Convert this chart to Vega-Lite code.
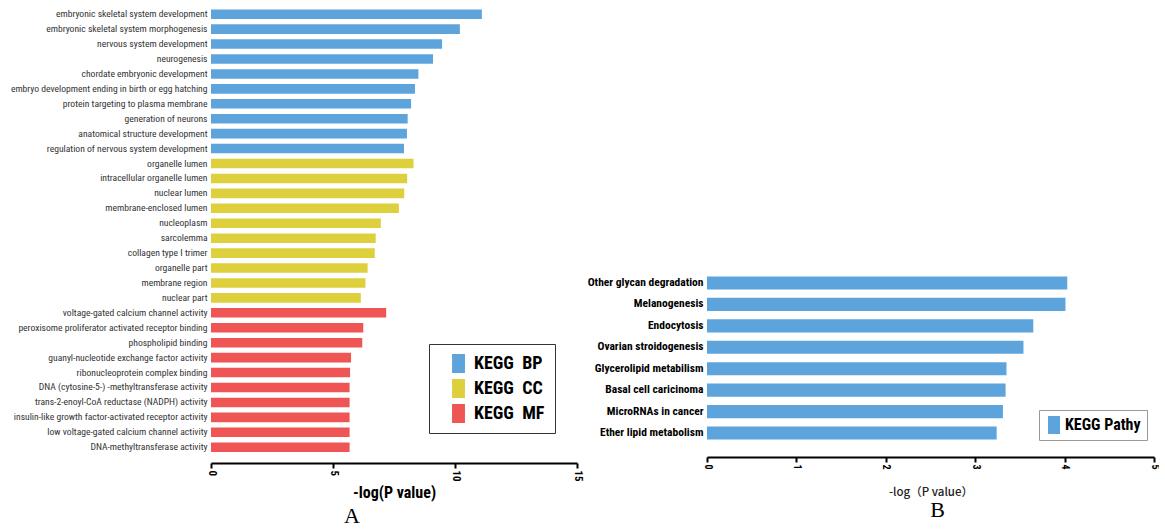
{
  "$schema": "https://vega.github.io/schema/vega-lite/v6.json",
  "padding": {"left": 10, "top": 0, "right": 0, "bottom": 0},
  "background": "white",
  "spacing": 130,
  "bounds": "flush",
  "resolve": {"scale": {"color": "independent"}, "legend": {"color": "independent"}},
  "config": {"view": {"stroke": null}},
  "hconcat": [
    {
      "width": 366,
      "height": 452,
      "data": {"values": [
        {"term": "embryonic skeletal system development", "value": 11.1, "category": "BP"},
        {"term": "embryonic skeletal system morphogenesis", "value": 10.2, "category": "BP"},
        {"term": "nervous system development", "value": 9.47, "category": "BP"},
        {"term": "neurogenesis", "value": 9.1, "category": "BP"},
        {"term": "chordate embryonic development", "value": 8.5, "category": "BP"},
        {"term": "embryo development ending in birth or egg hatching", "value": 8.36, "category": "BP"},
        {"term": "protein targeting to plasma membrane", "value": 8.2, "category": "BP"},
        {"term": "generation of neurons", "value": 8.06, "category": "BP"},
        {"term": "anatomical structure development", "value": 8.03, "category": "BP"},
        {"term": "regulation of nervous system development", "value": 7.91, "category": "BP"},
        {"term": "organelle lumen", "value": 8.3, "category": "CC"},
        {"term": "intracellular organelle lumen", "value": 8.04, "category": "CC"},
        {"term": "nuclear lumen", "value": 7.92, "category": "CC"},
        {"term": "membrane-enclosed lumen", "value": 7.7, "category": "CC"},
        {"term": "nucleoplasm", "value": 6.96, "category": "CC"},
        {"term": "sarcolemma", "value": 6.75, "category": "CC"},
        {"term": "collagen type I trimer", "value": 6.71, "category": "CC"},
        {"term": "organelle part", "value": 6.42, "category": "CC"},
        {"term": "membrane region", "value": 6.33, "category": "CC"},
        {"term": "nuclear part", "value": 6.14, "category": "CC"},
        {"term": "voltage-gated calcium channel activity", "value": 7.18, "category": "MF"},
        {"term": "peroxisome proliferator activated receptor binding", "value": 6.24, "category": "MF"},
        {"term": "phospholipid binding", "value": 6.2, "category": "MF"},
        {"term": "guanyl-nucleotide exchange factor activity", "value": 5.74, "category": "MF"},
        {"term": "ribonucleoprotein complex binding", "value": 5.7, "category": "MF"},
        {"term": "DNA (cytosine-5-) -methyltransferase activity", "value": 5.68, "category": "MF"},
        {"term": "trans-2-enoyl-CoA reductase (NADPH) activity", "value": 5.68, "category": "MF"},
        {"term": "insulin-like growth factor-activated receptor activity", "value": 5.68, "category": "MF"},
        {"term": "low voltage-gated calcium channel activity", "value": 5.68, "category": "MF"},
        {"term": "DNA-methyltransferase activity", "value": 5.68, "category": "MF"}
      ]},
      "mark": {"type": "bar"},
      "encoding": {
        "y": {
          "field": "term", "type": "nominal", "sort": null,
          "scale": {"paddingInner": 0.36, "paddingOuter": 0.315, "align": 1},
          "axis": {
            "title": null, "ticks": false, "domain": false,
            "labelFont": "Liberation Sans Narrow, Roboto Condensed, DejaVu Sans Condensed, Liberation Sans",
            "labelFontSize": 9.6, "labelColor": "#333333", "labelPadding": 4,
            "labelLimit": 300
          }
        },
        "x": {
          "field": "value", "type": "quantitative",
          "scale": {"domain": [0, 15], "nice": false},
          "axis": {
            "values": [0, 5, 10, 15], "grid": false, "offset": 11,
            "domainColor": "black", "domainWidth": 2,
            "tickColor": "black", "tickWidth": 2, "tickSize": 5,
            "labelAngle": 90, "labelFontWeight": "bold", "labelFontSize": 11, "labelColor": "black",
            "labelFont": "Liberation Sans Narrow, Roboto Condensed, DejaVu Sans Condensed, Liberation Sans", "labelPadding": 2,
            "title": "-log(P value)", "titleFont": "Liberation Sans Narrow, Roboto Condensed, DejaVu Sans Condensed, Liberation Sans",
            "titleFontSize": 16, "titleFontWeight": "bold", "titleColor": "black", "titlePadding": 3
          }
        },
        "color": {
          "field": "category", "type": "nominal",
          "scale": {"domain": ["BP", "CC", "MF"], "range": ["#5DA4DC", "#DDD03C", "#F05555"]},
          "legend": {
            "orient": "none", "legendX": 218, "legendY": 344, "title": null, "direction": "vertical",
            "symbolType": "M-0.68,-1L0.68,-1L0.68,1L-0.68,1Z", "symbolSize": 361,
            "symbolStrokeWidth": 0, "symbolOpacity": 1,
            "labelFont": "Liberation Sans Narrow, Roboto Condensed, DejaVu Sans Condensed, Liberation Sans", "labelFontWeight": "bold",
            "labelFontSize": 18, "labelColor": "black", "labelOffset": 6, "rowPadding": 6,
            "padding": 10, "symbolOffset": 10, "strokeColor": "#333333", "fillColor": "white",
            "labelExpr": "'KEGG\u00a0\u00a0' + datum.label + '\u00a0\u00a0\u00a0\u00a0'"
          }
        }
      },
      "title": {"text": "A", "orient": "bottom", "font": "Liberation Serif", "fontSize": 22,
        "fontWeight": "normal", "color": "black", "dx": -42, "offset": 6}
    },
    {
      "width": 447,
      "height": 440,
      "data": {"values": [
        {"term": "Other glycan degradation", "value": 4.03, "kind": "KEGG Pathy"},
        {"term": "Melanogenesis", "value": 4.01, "kind": "KEGG Pathy"},
        {"term": "Endocytosis", "value": 3.65, "kind": "KEGG Pathy"},
        {"term": "Ovarian stroidogenesis", "value": 3.54, "kind": "KEGG Pathy"},
        {"term": "Glycerolipid metabilism", "value": 3.35, "kind": "KEGG Pathy"},
        {"term": "Basal cell caricinoma", "value": 3.34, "kind": "KEGG Pathy"},
        {"term": "MicroRNAs in cancer", "value": 3.31, "kind": "KEGG Pathy"},
        {"term": "Ether lipid metabolism", "value": 3.24, "kind": "KEGG Pathy"}
      ]},
      "mark": {"type": "bar"},
      "encoding": {
        "y": {
          "field": "term", "type": "nominal", "sort": null,
          "scale": {"paddingInner": 0.39, "paddingOuter": 0.3, "range": [270, 446]},
          "axis": {
            "title": null, "ticks": false, "domain": false,
            "labelFont": "Liberation Sans Narrow, Roboto Condensed, DejaVu Sans Condensed, Liberation Sans",
            "labelFontSize": 11.5, "labelFontWeight": "bold", "labelColor": "black", "labelPadding": 4,
            "labelLimit": 200
          }
        },
        "x": {
          "field": "value", "type": "quantitative",
          "scale": {"domain": [0, 5], "nice": false},
          "axis": {
            "values": [0, 1, 2, 3, 4, 5], "grid": false, "offset": 17,
            "domainColor": "black", "domainWidth": 2,
            "tickColor": "black", "tickWidth": 2, "tickSize": 5,
            "labelAngle": 90, "labelFontWeight": "bold", "labelFontSize": 10, "labelColor": "black",
            "labelFont": "Liberation Sans Narrow, Roboto Condensed, DejaVu Sans Condensed, Liberation Sans", "labelPadding": 2,
            "title": "-log（P value）", "titleFont": "Noto Sans CJK SC",
            "titleFontSize": 11.5, "titleFontWeight": 500, "titleColor": "#222222", "titlePadding": 17
          }
        },
        "color": {
          "field": "kind", "type": "nominal",
          "scale": {"domain": ["KEGG Pathy"], "range": ["#5DA4DC"]},
          "legend": {
            "orient": "none", "legendX": 332, "legendY": 410, "title": null,
            "symbolType": "M-0.67,-1L0.67,-1L0.67,1L-0.67,1Z", "symbolSize": 324,
            "symbolStrokeWidth": 0, "symbolOpacity": 1,
            "labelFont": "Liberation Sans Narrow, Roboto Condensed, DejaVu Sans Condensed, Liberation Sans", "labelFontWeight": "bold",
            "labelFontSize": 16, "labelColor": "black", "labelOffset": 2,
            "padding": 6, "strokeColor": "#999999", "fillColor": "white"
          }
        }
      },
      "title": {"text": "B", "orient": "bottom", "font": "Liberation Serif", "fontSize": 22,
        "fontWeight": "normal", "color": "black", "dx": 7, "offset": 2}
    }
  ]
}
